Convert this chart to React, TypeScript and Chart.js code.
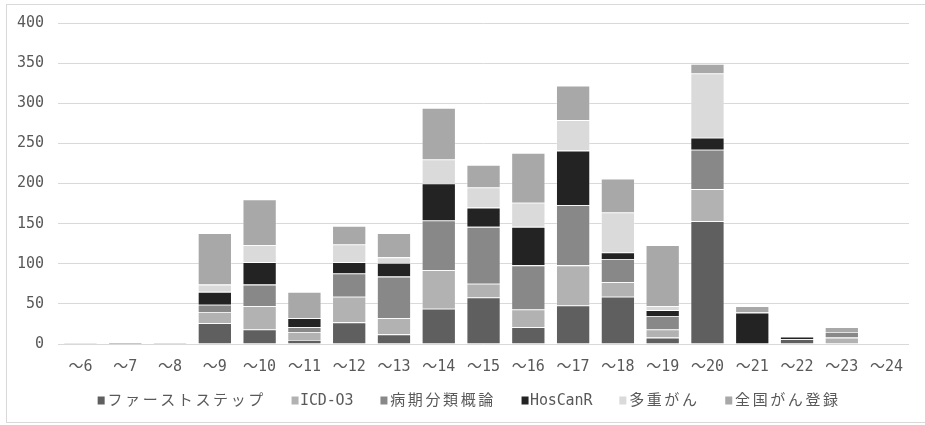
import React, { useEffect, useRef } from "react";
import { Chart, registerables } from "chart.js";

Chart.register(...registerables);

// 年度区分
const categories = [
  "〜6", "〜7", "〜8", "〜9", "〜10", "〜11", "〜12", "〜13", "〜14", "〜15",
  "〜16", "〜17", "〜18", "〜19", "〜20", "〜21", "〜22", "〜23", "〜24",
];

// 研修区分ごとの件数
const firstStep = [0, 0, 0, 26, 18, 5, 27, 12, 44, 58, 21, 48, 59, 8, 153, 0, 6, 0, 0];
const icdO3 = [0, 0, 0, 14, 29, 10, 32, 20, 48, 17, 22, 50, 18, 10, 40, 0, 0, 8, 0];
const stagingTheory = [0, 0, 2, 9, 27, 6, 29, 52, 62, 71, 55, 75, 29, 17, 49, 0, 0, 7, 0];
const hosCanR = [0, 2, 0, 16, 28, 11, 14, 17, 46, 24, 48, 68, 8, 7, 15, 39, 3, 0, 0];
const multipleCancer = [0, 0, 0, 9, 21, 0, 22, 7, 30, 25, 30, 38, 50, 5, 80, 1, 0, 0, 0];
const nationalRegistry = [2, 0, 0, 64, 57, 33, 23, 30, 64, 28, 62, 43, 42, 76, 12, 7, 0, 6, 0];

const seriesNames = ["ファーストステップ", "ICD-O3", "病期分類概論", "HosCanR", "多重がん", "全国がん登録"];
const seriesValues = [firstStep, icdO3, stagingTheory, hosCanR, multipleCancer, nationalRegistry];
const seriesColors = ["#5f5f5f", "#b2b2b2", "#888888", "#232323", "#dadada", "#a8a8a8"];

// Y軸目盛
const yMin = 0;
const yMax = 400;
const yStep = 50;

const TEXT_COLOR = "#595959";
const GRID_COLOR = "#d9d9d9";
const FONT_FAMILY = "'DejaVu Sans Mono', 'Noto Sans CJK JP', sans-serif";

// 凡例: 全角/半角のセル幅で文字を並べて描く
const HALF_CELL = 8.9;
const FULL_CELL = 17.6;

function isHalfWidth(ch: string): boolean {
  const c = ch.charCodeAt(0);
  return c < 0x1100 || (c >= 0xff61 && c <= 0xff9f);
}

function textCells(text: string): number {
  let w = 0;
  for (const ch of Array.from(text)) w += isHalfWidth(ch) ? HALF_CELL : FULL_CELL;
  return w;
}

const cellLegend = {
  id: "cellLegend",
  afterDraw(chart: any) {
    const ctx: CanvasRenderingContext2D = chart.ctx;
    const box = 7;
    const boxGap = 8.5;
    const spacing = 27;
    const items = chart.data.datasets.map((ds: any) => ({
      label: String(ds.label),
      color: String(ds.backgroundColor),
      width: boxGap + textCells(String(ds.label)),
    }));
    const total =
      items.reduce((s: number, it: any) => s + it.width, 0) + spacing * (items.length - 1);
    let x = (chart.width - total) / 2 + 6;
    const y = chart.height - 24;

    ctx.save();
    ctx.font = `15px ${FONT_FAMILY}`;
    ctx.textAlign = "center";
    ctx.textBaseline = "middle";
    for (const it of items) {
      ctx.fillStyle = it.color;
      ctx.fillRect(x, y - 4.5, box, 8);
      ctx.fillStyle = TEXT_COLOR;
      let cx = x + boxGap;
      for (const ch of Array.from(it.label as string)) {
        const w = isHalfWidth(ch) ? HALF_CELL : FULL_CELL;
        ctx.fillText(ch, cx + w / 2, y);
        cx += w;
      }
      x += it.width + spacing;
    }
    ctx.restore();
  },
};

export default function App() {
  const canvasRef = useRef<HTMLCanvasElement | null>(null);

  useEffect(() => {
    if (!canvasRef.current) return;
    const chart = new Chart(canvasRef.current, {
      type: "bar",
      data: {
        labels: categories,
        datasets: seriesNames.map((name, i) => ({
          label: name,
          data: seriesValues[i],
          backgroundColor: seriesColors[i],
          borderColor: "rgba(255,255,255,0.35)",
          borderWidth: 0.8,
          categoryPercentage: 1,
          barPercentage: 0.757,
        })),
      },
      options: {
        animation: false,
        responsive: true,
        maintainAspectRatio: false,
        layout: { padding: { left: 3, right: 16, top: 22, bottom: 43 } },
        plugins: {
          legend: { display: false },
          tooltip: { enabled: false },
        },
        scales: {
          x: {
            stacked: true,
            grid: { display: false },
            border: { display: false },
            ticks: {
              color: TEXT_COLOR,
              padding: 6,
              maxRotation: 0,
              autoSkip: false,
              font: { family: FONT_FAMILY, size: 15 },
            },
          },
          y: {
            stacked: true,
            min: yMin,
            max: yMax,
            border: { display: false },
            grid: { color: GRID_COLOR, drawTicks: false, lineWidth: 1 },
            ticks: {
              stepSize: yStep,
              color: TEXT_COLOR,
              padding: 14,
              font: { family: FONT_FAMILY, size: 15 },
            },
          },
        },
      },
      plugins: [cellLegend],
    });
    return () => chart.destroy();
  }, []);

  return (
    <div
      style={{
        position: "absolute",
        left: 0,
        top: 0,
        width: 925,
        height: 425,
        overflow: "hidden",
        background: "#ffffff",
      }}
    >
      <div
        style={{
          position: "absolute",
          left: 6,
          top: 4,
          width: 940,
          height: 417,
          border: `1px solid ${GRID_COLOR}`,
        }}
      />
      <div style={{ position: "absolute", left: 0, top: 0, width: 925, height: 425 }}>
        <canvas ref={canvasRef} />
      </div>
    </div>
  );
}
